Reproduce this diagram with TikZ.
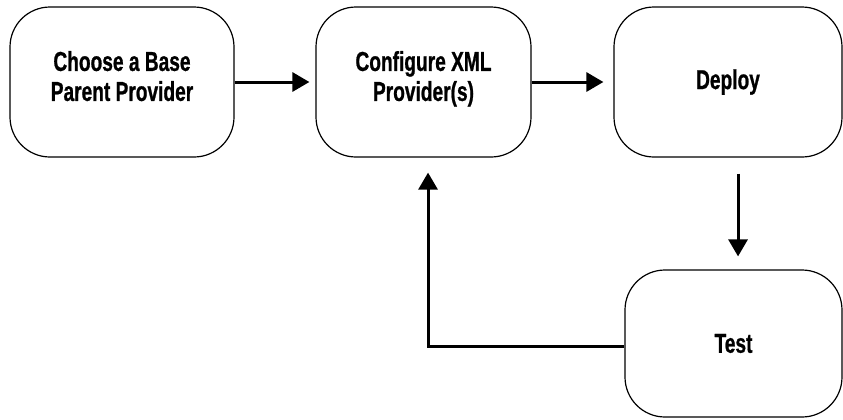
\documentclass[tikz,border=0pt]{standalone}
\usepackage{fontspec}
\setmainfont{Liberation Sans}[FakeStretch=0.7, BoldFeatures={FakeBold=0.8}]
\usetikzlibrary{arrows.meta, positioning, calc}

\begin{document}
\begin{tikzpicture}[x=0.75pt, y=-0.75pt,
  every node/.style={font=\bfseries\fontsize{20.5pt}{22.5pt}\selectfont},
  stepbox/.style={draw, line width=0.9pt, rounded corners=30pt, minimum height=112.5pt, align=center, inner sep=0pt},
  flow/.style={-{Triangle[length=12.75pt, width=14.25pt]}, line width=2.25pt}]
  \useasboundingbox (0,0) rectangle (843,419);
  \node[stepbox, minimum width=168pt, text depth=9pt] (choose) at (122,82) {Choose a Base\\Parent Provider};
  \node[stepbox, minimum width=161.25pt, text depth=9pt] (config) at (423.5,82) {Configure XML\\Provider(s)};
  \node[stepbox, minimum width=171pt] (deploy) at (728,82) {Deploy};
  \node[stepbox, minimum width=162.75pt, minimum height=110.25pt] (test) at (733.5,343.5) {Test};
  \draw[flow] (choose) -- ([xshift=-4.5pt]config.west);
  \draw[flow] (config) -- ([xshift=-7.5pt]deploy.west);
  \draw[flow] ($(test.north |- deploy.south)+(3.4pt,-12pt)$) -- ([shift={(3.4pt,9.75pt)}]test.north);
  \draw[flow] ([yshift=-2.5pt]test.west) -| ([shift={(3.4pt,-11.25pt)}]config.south);
\end{tikzpicture}
\end{document}
